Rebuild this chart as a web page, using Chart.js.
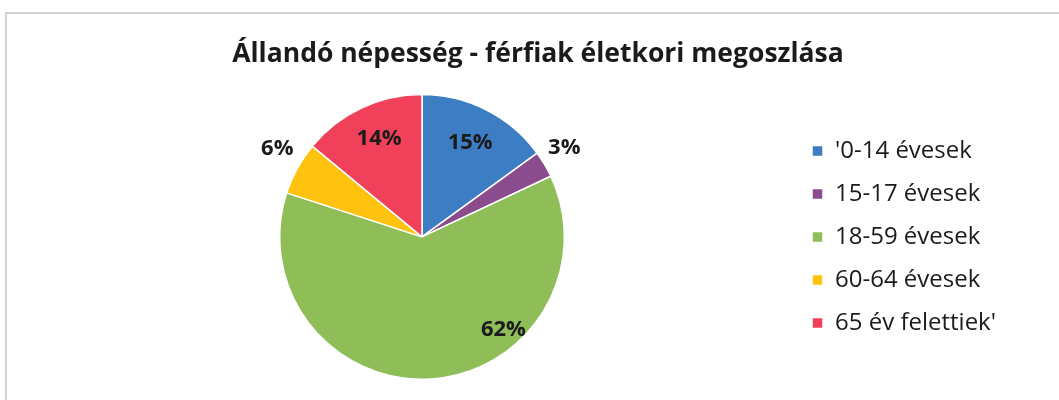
<!DOCTYPE html>
<html>
<head>
<meta charset="utf-8">
<script src="https://cdn.jsdelivr.net/npm/chart.js@4.4.0/dist/chart.umd.min.js"></script>
<style>
  html, body { margin: 0; padding: 0; background: #fff; }
  canvas { display: block; }
</style>
</head>
<body>
<canvas id="myChart" width="1059" height="400"></canvas>
<script>
const title = 'Állandó népesség - férfiak életkori megoszlása';
const categories = ["'0-14 évesek", '15-17 évesek', '18-59 évesek', '60-64 évesek', "65 év felettiek'"];
const shares = [15, 3, 62, 6, 14];

const colors = ['#3d7dc3', '#8b4c8e', '#8fbd58', '#ffc20f', '#f0405a'];

// where each percent label sits: fraction of radius, and a turn (degrees) off the slice middle
const labelSpots = [
	{ r: 0.745, turn: 0 },
	{ r: 1.18, turn: -1.5 },
	{ r: 0.87, turn: -37.5 },
	{ r: 1.19, turn: 2.5 },
	{ r: 0.75, turn: 1.5 }
];

const frame = {
	id: 'frame',
	beforeDraw(chart) {
		const c = chart.ctx;
		c.save();
		c.strokeStyle = '#c4c4c4';
		c.lineWidth = 1.5;
		c.beginPath();
		c.moveTo(6, chart.height);
		c.lineTo(6, 13);
		c.lineTo(chart.width, 13);
		c.stroke();
		c.restore();
	}
};

const percentLabels = {
	id: 'percentLabels',
	afterDatasetsDraw(chart) {
		const c = chart.ctx;
		const arcs = chart.getDatasetMeta(0).data;
		c.save();
		c.font = 'bold 22px "Open Sans"';
		c.fillStyle = '#1b1b1b';
		c.textAlign = 'center';
		c.textBaseline = 'middle';
		arcs.forEach((arc, i) => {
			const spot = labelSpots[i];
			const a = (arc.startAngle + arc.endAngle) / 2 + spot.turn * Math.PI / 180;
			const d = arc.outerRadius * spot.r;
			c.fillText(shares[i] + '%', arc.x + Math.cos(a) * d, arc.y + Math.sin(a) * d);
		});
		c.restore();
	}
};

// give the legend box a fixed width so the pie and legend land where they should
const legendWidth = {
	id: 'legendWidth',
	beforeInit(chart) {
		const fit = chart.legend.fit;
		chart.legend.fit = function () {
			fit.call(this);
			this.width = Math.max(this.width, 232);
		};
	}
};

var ctx = document.getElementById('myChart').getContext('2d');
var myChart = new Chart(ctx, {
	type: 'pie',
	data: {
		labels: categories,
		datasets: [{
			data: shares,
			backgroundColor: colors,
			borderColor: '#ffffff',
			borderWidth: 1.5,
			hoverBorderWidth: 1.5,
			hoverOffset: 0
		}]
	},
	options: {
		responsive: false,
		animation: false,
		layout: {
			padding: { left: 51, right: 34, top: 0, bottom: 20 }
		},
		plugins: {
			title: {
				display: true,
				text: title,
				color: '#1b1b1b',
				font: { family: '"Open Sans"', size: 26.5, weight: 'bold' },
				padding: { top: 39, bottom: 23 }
			},
			legend: {
				position: 'right',
				fullSize: false,
				labels: {
					color: '#1b1b1b',
					font: { family: '"Open Sans"', size: 24 },
					boxWidth: 11,
					boxHeight: 11,
					padding: 19
				}
			},
			tooltip: { enabled: false }
		}
	},
	plugins: [frame, percentLabels, legendWidth]
});
</script>
</body>
</html>
